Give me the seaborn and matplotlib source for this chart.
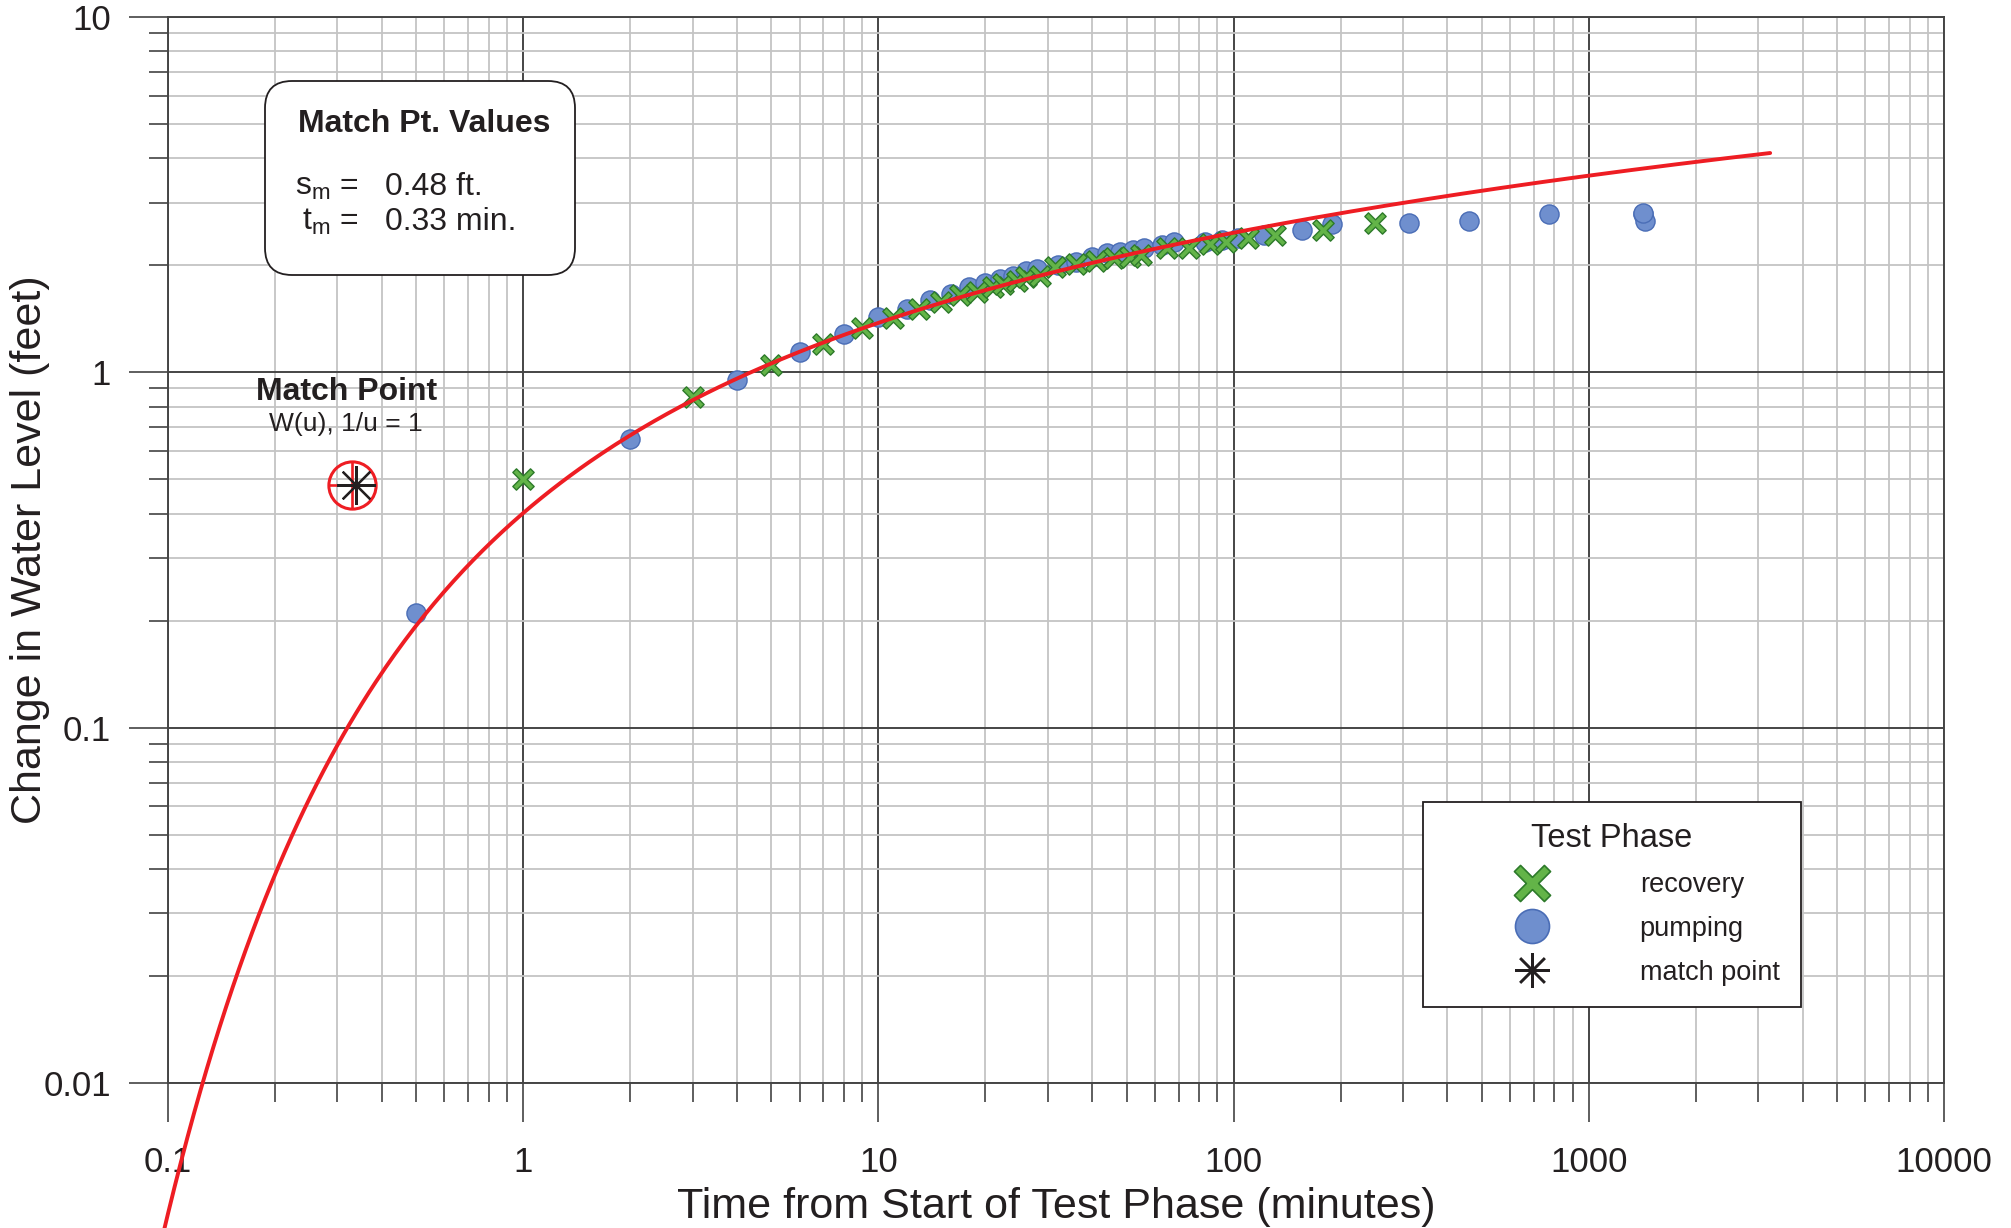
import numpy as np
import pandas as pd
import matplotlib
matplotlib.use("Agg")
import matplotlib.pyplot as plt
import seaborn as sns
from matplotlib.path import Path
from matplotlib.markers import MarkerStyle
from matplotlib.lines import Line2D
from matplotlib.patches import FancyBboxPatch
from matplotlib.ticker import LogLocator, FixedLocator, FixedFormatter, NullFormatter
from matplotlib.transforms import IdentityTransform

# ---- observed drawdown / recovery data (minutes, feet) ----
pumping_t = [0.5, 2, 4, 6, 8, 10, 12, 14, 16, 18, 20, 22, 24, 26, 28, 32, 36, 40,
             44, 48, 52, 56, 63, 68, 83, 93, 103, 122, 156, 189, 312, 461, 774,
             1420, 1437, 1425]
pumping_s = [0.21, 0.65, 0.95, 1.14, 1.28, 1.43, 1.51, 1.60, 1.66, 1.74, 1.78, 1.83,
             1.87, 1.92, 1.95, 2.00, 2.04, 2.11, 2.16, 2.18, 2.20, 2.23, 2.28, 2.33,
             2.33, 2.35, 2.38, 2.43, 2.51, 2.61, 2.62, 2.66, 2.78, 2.78, 2.66, 2.80]

recovery_t = [1, 3, 5, 7, 9, 11, 13, 15, 17, 19, 21, 22.5, 24.5, 26, 28.5, 31.5, 36,
              41, 46, 51, 55, 65, 75, 86, 95, 110, 131, 179, 250]
recovery_s = [0.50, 0.85, 1.05, 1.20, 1.33, 1.42, 1.51, 1.58, 1.65, 1.68, 1.74, 1.77,
              1.81, 1.85, 1.87, 1.98, 2.02, 2.05, 2.09, 2.11, 2.13, 2.23, 2.23, 2.30,
              2.33, 2.38, 2.43, 2.51, 2.62]

# Theis match point
match_s = 0.48   # ft
match_t = 0.33   # min
curve_t_start, curve_t_end = 0.09, 3240

x_ticks = [0.1, 1, 10, 100, 1000, 10000]
x_tick_labels = ["0.1", "1", "10", "100", "1000", "10000"]
y_ticks = [0.01, 0.1, 1, 10]
y_tick_labels = ["0.01", "0.1", "1", "10"]


def well_function(u, n_terms=60):
    """Theis well function W(u) = E1(u) from its convergent series."""
    u = np.asarray(u, dtype=float)
    total = -0.5772156649015329 - np.log(u)
    term = np.ones_like(u)
    for k in range(1, n_terms + 1):
        term = term * u / k
        total = total + ((-1) ** (k + 1)) * term / k
    return total


# type curve through the match point: s = s_m * W(u), 1/u = t / t_m
curve_t = np.logspace(np.log10(curve_t_start), np.log10(curve_t_end), 500)
curve_s = match_s * well_function(match_t / curve_t)

pump_df = pd.DataFrame({"t": pumping_t, "s": pumping_s})
rec_df = pd.DataFrame({"t": recovery_t, "s": recovery_s})
curve_df = pd.DataFrame({"t": curve_t, "s": curve_s})

# ---- style ----
sns.set_theme(style="white")
plt.rcParams["font.family"] = ["Liberation Sans", "DejaVu Sans"]
plt.rcParams["mathtext.fontset"] = "custom"
plt.rcParams["mathtext.rm"] = "Liberation Sans"
plt.rcParams["mathtext.it"] = "Liberation Sans"
plt.rcParams["mathtext.bf"] = "Liberation Sans:bold"

TEXT = "#231f20"
MAJOR = "#454545"
MINOR = "#c4c4c4"
RED = "#ee1d23"
BLUE = "#6f8fce"
BLUE_EDGE = "#4a6db6"
GREEN = "#63b448"
GREEN_EDGE = "#2d7a2a"

# thick "X" glyph used for the recovery points
d = 0.17
x_path = Path([(0, d), (0.5 - d, 0.5), (0.5, 0.5 - d), (d, 0), (0.5, -0.5 + d),
               (0.5 - d, -0.5), (0, -d), (-0.5 + d, -0.5), (-0.5, -0.5 + d),
               (-d, 0), (-0.5, 0.5 - d), (-0.5 + d, 0.5), (0, d)], closed=True)
x_marker = MarkerStyle(x_path)

W, H = 2011, 1228
fig = plt.figure(figsize=(W / 100, H / 100), dpi=100)
fig.patch.set_facecolor("white")

L, R, T, B = 168, 1944, 16.7, 1083
ax = fig.add_axes([L / W, 1 - B / H, (R - L) / W, (B - T) / H])
ax.set_facecolor("white")
ax.set_xscale("log")
ax.set_yscale("log")
ax.set_xlim(0.1, 10000)
ax.set_ylim(0.01, 10)

# ---- data ----
sns.scatterplot(data=pump_df, x="t", y="s", ax=ax, marker="o", s=190,
                color=BLUE, edgecolor=BLUE_EDGE, linewidth=1.0, zorder=3, legend=False)
sns.scatterplot(data=rec_df, x="t", y="s", ax=ax, marker=x_marker, s=235,
                color=GREEN, edgecolor=GREEN_EDGE, linewidth=1.0, zorder=3.5, legend=False)
sns.lineplot(data=curve_df, x="t", y="s", ax=ax, color=RED, linewidth=2.8,
             sort=False, estimator=None, clip_on=False, zorder=4)

# match point symbol
ax.plot([match_t], [match_s], ls="none", marker="o", ms=34, mfc="none", mec=RED, mew=2.2, zorder=5)
ax.plot([match_t], [match_s], ls="none", marker="+", ms=34, mec=RED, mew=1.9, zorder=5)
ax.plot([match_t * 1.025], [match_s], ls="none", marker=(8, 2, 0), ms=28, mec=TEXT, mew=1.6, zorder=5.5)

# ---- axes, ticks, grid ----
ax.xaxis.set_major_locator(FixedLocator(x_ticks))
ax.xaxis.set_major_formatter(FixedFormatter(x_tick_labels))
ax.yaxis.set_major_locator(FixedLocator(y_ticks))
ax.yaxis.set_major_formatter(FixedFormatter(y_tick_labels))
ax.xaxis.set_minor_locator(LogLocator(base=10, subs=np.arange(2, 10), numticks=30))
ax.yaxis.set_minor_locator(LogLocator(base=10, subs=np.arange(2, 10), numticks=30))
ax.xaxis.set_minor_formatter(NullFormatter())
ax.yaxis.set_minor_formatter(NullFormatter())

ax.grid(True, which="minor", color=MINOR, linewidth=1.3)
ax.grid(True, which="major", color=MAJOR, linewidth=1.4)
ax.set_axisbelow(True)
ax.tick_params(which="major", direction="out", length=28, width=1.1, color="#333333",
               labelsize=25, labelcolor=TEXT, bottom=True, left=True,
               top=False, right=False)
ax.tick_params(axis="x", which="major", pad=17.5)
ax.tick_params(axis="y", which="major", pad=13)
ax.tick_params(which="minor", direction="out", length=14, width=1.1, color="#333333",
               bottom=True, left=True, top=False, right=False)
for sp in ax.spines.values():
    sp.set_color(MAJOR)
    sp.set_linewidth(1.4)

ax.set_xlabel("Time from Start of Test Phase (minutes)", fontsize=31, color=TEXT)
ax.set_ylabel("Change in Water Level (feet)", fontsize=31, color=TEXT)
ax.xaxis.label.set_va("center")
ax.yaxis.label.set_va("center")
ax.xaxis.set_label_coords(0.5, (B - 1207) / (B - T))
ax.yaxis.set_label_coords((30 - L) / (R - L), 0.5)


def fx(x):
    return x / W


def fy(y):
    return 1 - y / H


# ---- match point values box ----
box = FancyBboxPatch((265, H - 275), 310, 194,
                     boxstyle="round,pad=0,rounding_size=27",
                     transform=IdentityTransform(), facecolor="white",
                     edgecolor=TEXT, linewidth=1.3, zorder=5)
fig.add_artist(box)
fig.text(fx(424), fy(124), "Match Pt. Values", ha="center", va="center",
         fontsize=23, weight="bold", color=TEXT, zorder=6)
fig.text(fx(359), fy(195), r"$\mathregular{s_m}$ =", ha="right", va="baseline",
         fontsize=23, color=TEXT, zorder=6)
fig.text(fx(385), fy(195), f"{match_s:.2f} ft.", ha="left", va="baseline",
         fontsize=23, color=TEXT, zorder=6)
fig.text(fx(359), fy(230), r"$\mathregular{t_m}$ =", ha="right", va="baseline",
         fontsize=23, color=TEXT, zorder=6)
fig.text(fx(385), fy(230), f"{match_t:.2f} min.", ha="left", va="baseline",
         fontsize=23, color=TEXT, zorder=6)

# match point caption
fig.text(fx(347), fy(392), "Match Point", ha="center", va="center",
         fontsize=23, weight="bold", color=TEXT)
fig.text(fx(346), fy(424), "W(u), 1/u = 1", ha="center", va="center",
         fontsize=19, color=TEXT)

# ---- legend ----
handles = [
    Line2D([], [], ls="none", marker=x_marker, ms=26, mfc=GREEN, mec=GREEN_EDGE, mew=1.2),
    Line2D([], [], ls="none", marker="o", ms=24.5, mfc=BLUE, mec=BLUE_EDGE, mew=1.2),
    Line2D([], [], ls="none", marker=(8, 2, 0), ms=25, mec=TEXT, mew=1.8),
]
leg = ax.legend(handles, ["recovery", "pumping", "match point"], title="Test Phase",
                loc="upper left", bbox_to_anchor=(1423 / W, 1 - 802 / H),
                bbox_transform=fig.transFigure, frameon=True, fancybox=False,
                fontsize=19.5, title_fontsize=23.5, borderpad=0.78, handlelength=6.5,
                handletextpad=0.72, labelspacing=0.66, borderaxespad=0)
leg.get_frame().set_edgecolor(TEXT)
leg.get_frame().set_linewidth(1.3)
leg.get_frame().set_facecolor("white")
leg.get_frame().set_alpha(1)
for t in leg.get_texts():
    t.set_color(TEXT)
leg.get_title().set_color(TEXT)
leg.set_zorder(10)

fig.savefig("out.png", dpi=100, facecolor="white")
